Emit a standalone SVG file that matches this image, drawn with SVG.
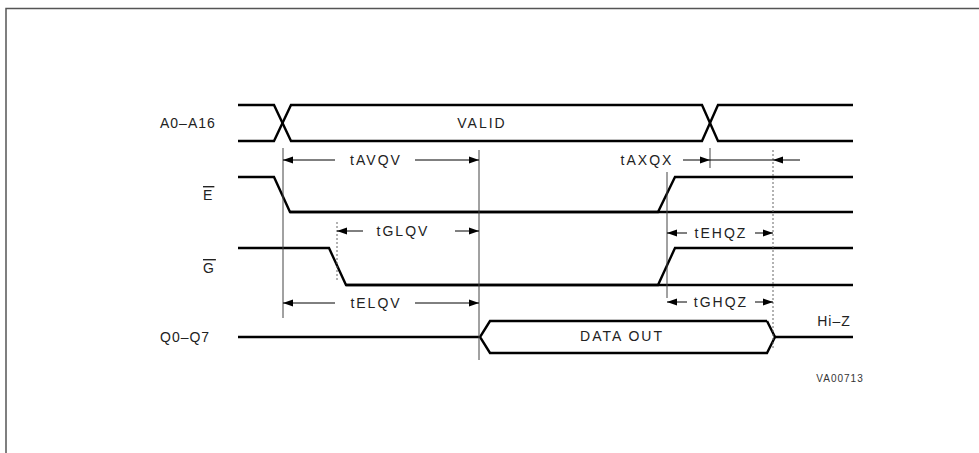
<svg xmlns="http://www.w3.org/2000/svg" width="979" height="453" viewBox="0 0 979 453">
<defs>
<marker id="arr" markerUnits="userSpaceOnUse" markerWidth="10" markerHeight="8" refX="10" refY="4" orient="auto-start-reverse">
<path d="M0,0.5 L10,4 L0,7.5 z" fill="#000"/>
</marker>
</defs>
<style>
.sig{fill:none;stroke:#000;stroke-width:2.4;stroke-linejoin:miter}
.ext{fill:none;stroke:#444;stroke-width:1}
.dot{fill:none;stroke:#666;stroke-width:1;stroke-dasharray:2 2}
.dim{fill:none;stroke:#000;stroke-width:1}
.lbl{font-family:"Liberation Sans",Arial,sans-serif;font-size:14px;fill:#222;letter-spacing:2px}
.sm{font-family:"Liberation Sans",Arial,sans-serif;font-size:10px;fill:#333;letter-spacing:1px}
</style>
<rect width="979" height="453" fill="#fff"/>
<path d="M6,453 V8.5 H979" fill="none" stroke="#555" stroke-width="1.5"/>

<g id="label-address"><text class="lbl" x="160" y="128" style="letter-spacing:1px">A0–A16</text></g>
<g id="label-e"><text class="lbl" x="203" y="200" text-decoration="overline">E</text></g>
<g id="label-g"><text class="lbl" x="203" y="273" text-decoration="overline">G</text></g>
<g id="label-q"><text class="lbl" x="160" y="342" style="letter-spacing:1px">Q0–Q7</text></g>

<g id="signal-address">
<path class="sig" d="M238,105 H274 L291,141 H702 L718,105 H853"/>
<path class="sig" d="M238,141 H274 L291,105 H702 L718,141 H853"/>
<text class="lbl" x="482" y="128" text-anchor="middle">VALID</text>
</g>
<g id="signal-e">
<path class="sig" d="M238,177 H274 L290,212 H658 L675,177 H853"/>
<path class="sig" d="M290,212 H853"/>
</g>
<g id="signal-g">
<path class="sig" d="M238,248 H329 L346,285 H658 L675,248 H853"/>
<path class="sig" d="M346,285 H853"/>
</g>
<g id="signal-q">
<path class="sig" d="M238,337 H479"/>
<path class="sig" d="M767,321 H490 L480,337 L490,353 H767 L775,337 L767,321"/>
<path class="sig" d="M775,337 H853"/>
<text class="lbl" x="622" y="341" text-anchor="middle">DATA OUT</text>
<text class="lbl" x="834" y="326" text-anchor="middle" style="letter-spacing:1px">Hi–Z</text>
</g>
<g id="ref-code"><text class="sm" x="840" y="382" text-anchor="middle">VA00713</text></g>

<g id="connectors">
<path class="ext" d="M283,148 V318"/>
<path class="ext" d="M479,150 V360"/>
<path class="dot" d="M337,222 V282"/>
<path class="ext" d="M710,148 V168"/>
<path class="ext" d="M667,172 V298"/>
<path class="dot" d="M773,150 V350"/>

<path class="dim" d="M335,160 H283" marker-end="url(#arr)"/>
<path class="dim" d="M415,160 H479" marker-end="url(#arr)"/>
<text class="lbl" x="376" y="165" text-anchor="middle">tAVQV</text>

<path class="dim" d="M683,160 H710" marker-end="url(#arr)"/>
<path class="dim" d="M710,160 H773"/>
<path class="dim" d="M800,160 H773" marker-end="url(#arr)"/>
<text class="lbl" x="647" y="165" text-anchor="middle">tAXQX</text>

<path class="dim" d="M363,231 H337" marker-end="url(#arr)"/>
<path class="dim" d="M455,231 H479" marker-end="url(#arr)"/>
<text class="lbl" x="403" y="236" text-anchor="middle">tGLQV</text>

<path class="dim" d="M687,233 H667" marker-end="url(#arr)"/>
<path class="dim" d="M755,233 H773" marker-end="url(#arr)"/>
<text class="lbl" x="721" y="238" text-anchor="middle">tEHQZ</text>

<path class="dim" d="M335,303 H283" marker-end="url(#arr)"/>
<path class="dim" d="M415,303 H479" marker-end="url(#arr)"/>
<text class="lbl" x="376" y="308" text-anchor="middle">tELQV</text>

<path class="dim" d="M687,302 H667" marker-end="url(#arr)"/>
<path class="dim" d="M755,302 H773" marker-end="url(#arr)"/>
<text class="lbl" x="721" y="307" text-anchor="middle">tGHQZ</text>
</g>
</svg>
